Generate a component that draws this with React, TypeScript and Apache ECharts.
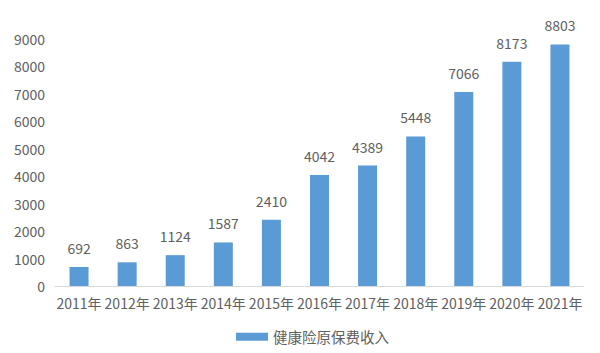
import React, { useEffect, useRef } from "react";
import * as echarts from "echarts";

const categories = ["2011年", "2012年", "2013年", "2014年", "2015年", "2016年", "2017年", "2018年", "2019年", "2020年", "2021年"];
const values = [692, 863, 1124, 1587, 2410, 4042, 4389, 5448, 7066, 8173, 8803];
const seriesName = "健康险原保费收入";

export default function App() {
  const ref = useRef<HTMLDivElement>(null);
  useEffect(() => {
    const chart = echarts.init(ref.current!, null, { renderer: "svg" });
    const font = "'Noto Sans CJK SC', 'Noto Sans', sans-serif";
    chart.setOption({
      animation: false,
      backgroundColor: "#ffffff",
      textStyle: { fontFamily: font },
      grid: { left: 55, right: 16, top: 39, bottom: 67, containLabel: false },
      legend: {
        data: [seriesName],
        bottom: 4,
        left: 231,
        itemWidth: 32,
        itemHeight: 8,
        itemGap: 8,
        textStyle: { color: "#606060", fontSize: 14.5, fontFamily: font },
        icon: "rect",
      },
      xAxis: {
        type: "category",
        data: categories,
        axisLine: { lineStyle: { color: "#d9d9d9" } },
        axisTick: { show: false },
        axisLabel: { color: "#606060", fontSize: 14, interval: 0, margin: 10, fontFamily: font },
      },
      yAxis: {
        type: "value",
        min: 0,
        max: 9000,
        interval: 1000,
        axisLine: { show: false },
        axisTick: { show: false },
        splitLine: { show: false },
        axisLabel: {
          color: "#606060",
          fontSize: 14,
          margin: 10,
          fontFamily: font,
          formatter: (v: number) => String(v),
        },
      },
      series: [
        {
          name: seriesName,
          type: "bar",
          data: values,
          barWidth: 19,
          itemStyle: { color: "#5b9bd5" },
          label: {
            show: true,
            position: "top",
            distance: 12,
            color: "#606060",
            fontSize: 14,
            fontFamily: font,
          },
        },
      ],
    });
    return () => chart.dispose();
  }, []);
  return <div ref={ref} style={{ width: 600, height: 353, position: "absolute", left: 0, top: 0 }} />;
}
